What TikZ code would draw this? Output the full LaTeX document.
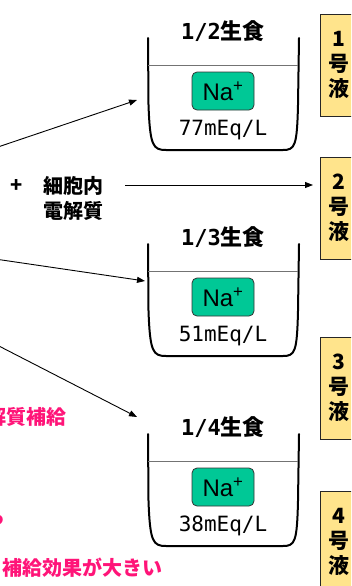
\documentclass[tikz,border=0pt]{standalone}
\usepackage{fontspec}
\newfontfamily\jp{Noto Sans CJK JP}
\newfontfamily\mono{DejaVu Sans Mono}
\newfontfamily\arial{Liberation Sans}
\usetikzlibrary{arrows.meta}
\definecolor{pinktxt}{RGB}{255,20,120}
\definecolor{boxyellow}{RGB}{255,228,140}
\definecolor{nagreen}{RGB}{0,200,150}
\newcommand\drawbeaker[4]{%
  \begin{scope}[yshift=-#1pt]
    \draw[wall] (148,38) -- (148.5,105) .. controls (150,146) and (153,150) .. (166,150)
       -- (283,150) .. controls (295,150) and (297,146) .. (298,105) -- (299,38);
    \draw[water] (148,65) -- (298,65);
    \node[title] (#4t) at (223,31) {{\mono\bfseries #2}{\jp\bfseries 生食}};
    \node[nabox] (#4n) at (223,91) {\arial Na\textsuperscript{+}};
    \node[conc] (#4c) at (223,130) {\mono #3mEq/L};
  \end{scope}}
\begin{document}
\begin{tikzpicture}[x=1pt,y=-1pt,
  wall/.style={line width=2pt,line cap=round},
  water/.style={draw=black!55,line width=0.8pt},
  title/.style={inner sep=0pt,font=\fontsize{22}{22}\selectfont},
  conc/.style={inner sep=0pt,font=\fontsize{21}{21}\selectfont},
  nabox/.style={draw=black!80,line width=0.8pt,fill=nagreen,rounded corners=5pt,
     minimum width=62pt,minimum height=38pt,inner sep=0pt,font=\fontsize{24}{24}\selectfont},
  gobox/.style={draw=black!85,line width=1pt,fill=boxyellow,minimum width=44pt,
     minimum height=102pt,inner sep=0pt},
  gochar/.style={inner sep=0pt,font=\jp\bfseries\fontsize{21}{21}\selectfont},
  lbl/.style={inner sep=0pt,font=\jp\bfseries\fontsize{20}{20}\selectfont},
  pink/.style={inner sep=0pt,text=pinktxt,font=\jp\bfseries\fontsize{20}{20}\selectfont},
  arr/.style={line width=0.9pt,-{Triangle[length=8pt,width=6pt]}}]
\useasboundingbox (0,0) rectangle (351,586);
\clip (0,0) rectangle (351,586);

\drawbeaker{0}{1/2}{77}{ba}
\drawbeaker{206}{1/3}{51}{bb}
\drawbeaker{396}{1/4}{38}{bc}

% yellow boxes
\foreach \top/\d/\n in {14/1/g1,157/2/g2,337/3/g3,491/4/g4}{
  \node[gobox,anchor=north west] (\n) at (320,\top) {};
  \node[gochar] (\n a) at (339,\top+25) {\d};
  \node[gochar] (\n b) at (339,\top+50) {号};
  \node[gochar] (\n c) at (339,\top+75) {液};
}

% labels
\node[lbl] (plus) at (17,186) {+};
\node[lbl,anchor=west] (saibo) at (43,186) {細胞内};
\node[lbl,anchor=west] (denkai) at (43,211) {電解質};

\node[pink,anchor=east] (p1) at (67,417) {電解質補給};
\node[pink,anchor=east] (p2) at (6,517) {ら};
\node[pink,anchor=west] (p3) at (2,568) {補給効果が大きい};

% connectors
\coordinate (s1) at (-5,148);
\coordinate (e1) at (137,100);
\coordinate (s2) at (125,185);
\coordinate (s3) at (-5,259);
\coordinate (e3) at (145,281);
\coordinate (s4) at (-5,344);
\coordinate (e4) at (137,417);
\draw[arr] (s1) -- (e1);
\draw[arr,shorten >=7pt] (s2) -- (s2 -| g2.west);
\draw[arr] (s3) -- (e3);
\draw[arr] (s4) -- (e4);
\end{tikzpicture}
\end{document}
